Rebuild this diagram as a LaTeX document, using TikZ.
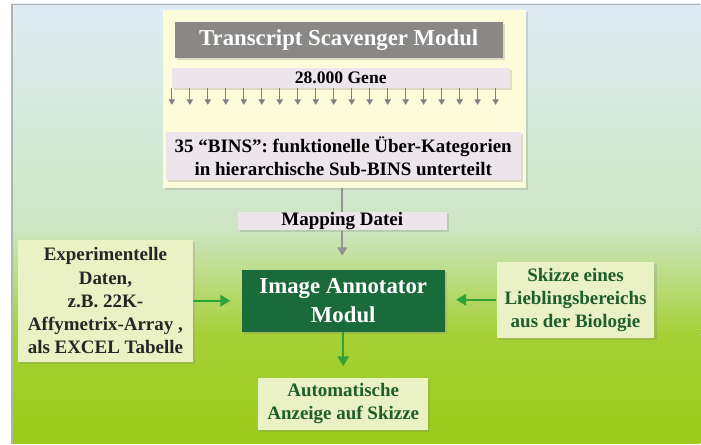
\documentclass[tikz,border=0pt]{standalone}
\usepackage{fontspec}
\setmainfont{Liberation Serif}
\usetikzlibrary{arrows.meta,shadows}
\definecolor{skytop}{HTML}{E0EBF5}
\definecolor{skymid}{HTML}{CDE6C3}
\definecolor{grassmid}{HTML}{A6D036}
\definecolor{grassbot}{HTML}{9CCB1A}
\definecolor{cream}{HTML}{FDFCDA}
\definecolor{lavender}{HTML}{ECE5EC}
\definecolor{titlegray}{HTML}{8A8886}
\definecolor{darkgreen}{HTML}{1B6B3A}
\definecolor{arrowgreen}{HTML}{2EA33A}
\definecolor{paleleaf}{HTML}{EAF1C4}
\definecolor{textgreen}{HTML}{1E5E2A}

\begin{document}
\begin{tikzpicture}[x=0.025cm,y=-0.025cm,
  box/.style={draw=none,align=center,inner sep=0pt,font=\bfseries\fontsize{13.5}{16.5}\selectfont,
    drop shadow={shadow xshift=1.5pt,shadow yshift=-1.5pt,opacity=0.25}},
  bar/.style={box,fill=lavender},
  leaf/.style={box,fill=paleleaf},
  greyarrow/.style={draw=gray!85,line width=1.3pt,-{Triangle[length=6pt,width=7pt]}},
  greenarrow/.style={draw=arrowgreen,line width=1.6pt,-{Triangle[length=7pt,width=8pt]}},
  tick/.style={draw=gray,line width=0.9pt,-{Triangle[length=4pt,width=4.5pt]}}]
  % background
  \fill[white] (0,0) rectangle (701,444);
  \shade[top color=skytop,bottom color=skymid] (12,4) rectangle (701,230);
  \shade[top color=skymid,bottom color=grassmid] (12,229.5) rectangle (701,335);
  \shade[top color=grassmid,bottom color=grassbot] (12,334.5) rectangle (701,444);
  \draw[gray!60,line width=0.8pt] (12,444) -- (12,4.5) -- (701,4.5);
  \useasboundingbox (0,0) rectangle (701,444);
  % scavenger module
  \node[box,fill=cream,minimum width=363*0.025cm,minimum height=178*0.025cm] (tsm) at (344.5,99) {};
  \node[box,fill=titlegray,text=white,font=\bfseries\fontsize{16.2}{19}\selectfont,
    minimum width=328*0.025cm,minimum height=36*0.025cm] (title) at (339,40) {Transcript Scavenger Modul};
  \node[bar,font=\bfseries\fontsize{12.5}{14}\selectfont,
    minimum width=338*0.025cm,minimum height=20*0.025cm] (gene) at (341,78) {28.000 Gene};
  \foreach \i in {0,...,18}
    \draw[tick] (172+18*\i,88) -- (172+18*\i,105);
  \node[bar,minimum width=355*0.025cm,minimum height=48*0.025cm] (bins) at (343.5,156)
    {35 “BINS”: funktionelle Über-Kategorien\\in hierarchische Sub-BINS unterteilt};
  \node[bar,minimum width=209*0.025cm,minimum height=18*0.025cm] (map) at (342.5,221.5) {Mapping Datei};
  \coordinate (mapend) at (342.5,256);
  % annotator
  \node[box,fill=darkgreen,text=white,font=\bfseries\fontsize{16.2}{21}\selectfont,
    minimum width=203*0.025cm,minimum height=62*0.025cm] (ann) at (343.5,301) {Image Annotator\\Modul};
  \node[leaf,text=black!85,minimum width=175*0.025cm,minimum height=122*0.025cm] (exp) at (105.5,301)
    {Experimentelle\\Daten,\\z.B. 22K-\\Affymetrix-Array ,\\als EXCEL Tabelle};
  \node[leaf,text=textgreen,minimum width=158*0.025cm,minimum height=76*0.025cm] (sketch) at (576,300)
    {Skizze eines\\Lieblingsbereichs\\aus der Biologie};
  \node[leaf,text=textgreen,minimum width=170*0.025cm,minimum height=52*0.025cm] (show) at (343.5,404)
    {Automatische\\Anzeige auf Skizze};
  % connectors
  \draw[draw=gray!85,line width=1.3pt] (tsm.south -| map.north) -- (map.north);
  \draw[greyarrow] (map.south) -- (mapend);
  \draw[greenarrow] (exp.east) -- ([xshift=-8pt]ann.west);
  \draw[greenarrow] (sketch.west) -- ([xshift=8pt]ann.east |- sketch.west);
  \draw[greenarrow] (ann.south) -- ([yshift=8pt]show.north);
\end{tikzpicture}
\end{document}
